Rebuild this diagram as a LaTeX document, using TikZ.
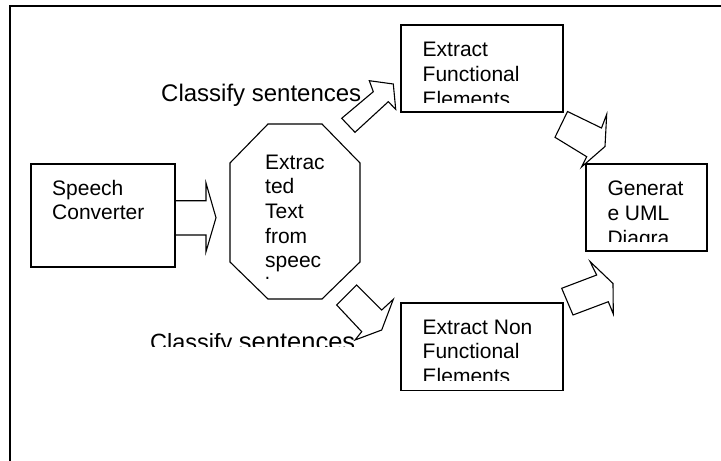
\documentclass[tikz,border=0pt]{standalone}
\usepackage{fontspec}
\setmainfont{Liberation Sans}
\begin{document}
\begin{tikzpicture}[x=1pt,y=-1pt,line join=miter,
  boxtxt/.style={anchor=base west,inner sep=0pt,font=\fontsize{21}{24.6}\selectfont},
  lbl/.style={anchor=base west,inner sep=0pt,font=\fontsize{24}{28}\selectfont},
  box/.style={draw,line width=1.1pt,inner sep=0pt},
  blockarrow/.style={draw,line width=1.1pt,fill=white}]
\useasboundingbox (0,0) rectangle (721,461);
\fill[white] (0,0) rectangle (721,461);
% outer frame (right and bottom sides lie outside the picture)
\draw[line width=1.4pt] (10,465) -- (10,6) -- (725,6);

% boxes
\node[box,minimum width=144pt,minimum height=103pt] (sc) at (103,215.5) {};
\node[box,minimum width=162pt,minimum height=87pt] (ef) at (482,68.5) {};
\node[box,minimum width=162pt,minimum height=87.5pt] (enf) at (482,346.75) {};
\node[box,minimum width=121pt,minimum height=87pt] (gen) at (646.5,207.5) {};

% octagon
\draw[line width=1.1pt] (268,124) -- (322,124) -- (360,163) -- (360,262)
  -- (322,299) -- (268,299) -- (230,262) -- (230,163) -- cycle;
\coordinate (oct) at (295,211.5);

% texts
\node[boxtxt] (sctxt) at (52,195.3) {\vtop{\hbox{Speech}\hbox{Converter}}};
\begin{scope}
  \clip (230,124) rectangle (360,278);
  \node[boxtxt] (octtxt) at (265,169.2) {\vtop{\hbox{Extrac}\hbox{ted}\hbox{Text}\hbox{from}\hbox{speec}\hbox{h}}};
\end{scope}
\begin{scope}
  \clip (401,25) rectangle (563,102);
  \node[boxtxt] (eftxt) at (422.5,56.8) {\vtop{\hbox{Extract}\hbox{Functional}\hbox{Elements}}};
\end{scope}
\begin{scope}
  \clip (401,303) rectangle (563,380);
  \node[boxtxt] (enftxt) at (422.5,334.2) {\vtop{\hbox{Extract Non}\hbox{Functional}\hbox{Elements}}};
\end{scope}
\begin{scope}
  \clip (586,164) rectangle (707,241);
  \node[boxtxt] (gentxt) at (607.3,195.8) {\vtop{\hbox{Generat}\hbox{e UML}\hbox{Diagra}\hbox{m}}};
\end{scope}

% labels
\node[lbl] (lab1) at (161,101.7) {Classify sentences};
\begin{scope}
  \clip (0,0) rectangle (721,346.7);
  \node[lbl,font=\fontsize{23.5}{28}\selectfont] (lab2) at (150,350.1) {Classify {\fontsize{25.5}{28}\selectfont sentences}};
\end{scope}

% block arrows
\draw[line width=1.1pt] (sc.east |- 0,200.7) -- (206,200.7) -- (206,183) -- (216,217.7)
  -- (206,251.7) -- (206,235) -- (sc.east |- 0,235);
\draw[blockarrow] (341.7,118.3) -- (373.3,91.7) -- (369.3,80.7) -- (393.3,84)
  -- (395.7,109.3) -- (388.3,101.7) -- (355,132.3) -- cycle;
\draw[blockarrow] (336.7,305) -- (356.7,285) -- (381.7,310) -- (393.3,299.3)
  -- (381.7,330) -- (355,340) -- (361.7,331.7) -- cycle;
\draw[blockarrow] (567.5,111.5) -- (601.5,128) -- (606.7,114.3) -- (605,146.5)
  -- (581.5,167) -- (586.7,156.7) -- (555,137.3) -- cycle;
\draw[blockarrow] (561.7,288.3) -- (596.7,275) -- (590,261.5) -- (613,283.5)
  -- (613.3,314) -- (608.3,301.7) -- (573,315) -- cycle;
\end{tikzpicture}
\end{document}
